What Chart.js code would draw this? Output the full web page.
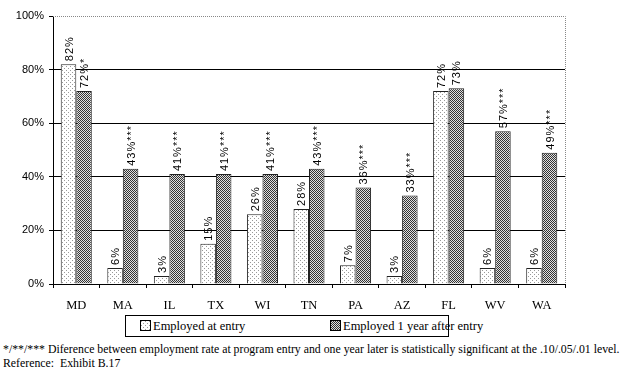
<!DOCTYPE html>
<html>
<head>
<meta charset="utf-8">
<script src="https://cdn.jsdelivr.net/npm/chart.js@4/dist/chart.umd.min.js"></script>
<style>
  body { margin: 0; background: #fff; width: 627px; height: 369px; position: relative; overflow: hidden; }
  #chart { position: absolute; left: 0; top: 0; }
  #legend {
    position: absolute; left: 125px; top: 315px; width: 322px; height: 20px;
    border: 1px solid #000; font-family: "Liberation Serif", serif; font-size: 12.5px;
    line-height: 20px; white-space: nowrap;
  }
  #legend span.item { position: absolute; top: 0; }
  #legend canvas { vertical-align: -1px; margin-right: 2px; border: 1px solid #000; box-sizing: border-box; }
  #notes {
    position: absolute; left: 3px; top: 342px; font-family: "Liberation Serif", serif;
    font-size: 11.8px; line-height: 14px; white-space: nowrap;
  }
</style>
</head>
<body>
<canvas id="chart" width="627" height="315"></canvas>
<div id="legend"></div>
<div id="notes">
  <div>*/**/*** Diference between employment rate at program entry and one year later is statistically significant at the .10/.05/.01 level.</div>
  <div>Reference:&nbsp; Exhibit B.17</div>
</div>
<script>
const states = ['MD', 'MA', 'IL', 'TX', 'WI', 'TN', 'PA', 'AZ', 'FL', 'WV', 'WA'];
const atEntry = [82, 6, 3, 15, 26, 28, 7, 3, 72, 6, 6];
const afterYear = [72, 43, 41, 41, 41, 43, 36, 33, 73, 57, 49];
const entryLabels = ['82%', '6%', '3%', '15%', '26%', '28%', '7%', '3%', '72%', '6%', '6%'];
const yearLabels = ['72%*', '43%***', '41%***', '41%***', '41%***', '43%***', '36%***', '33%***', '73%', '57%***', '49%***'];
const seriesNames = ['Employed at entry', 'Employed 1 year after entry'];
const yTicks = [0, 20, 40, 60, 80, 100];

// small fill patterns like the old office chart
function dotPattern() {
  const c = document.createElement('canvas');
  c.width = 4; c.height = 4;
  const g = c.getContext('2d');
  g.fillStyle = '#fff'; g.fillRect(0, 0, 4, 4);
  g.fillStyle = '#999';
  g.fillRect(0, 0, 1, 1);
  g.fillRect(2, 2, 1, 1);
  return c;
}
function checkPattern() {
  const c = document.createElement('canvas');
  c.width = 2; c.height = 2;
  const g = c.getContext('2d');
  g.fillStyle = '#e0e0e0'; g.fillRect(0, 0, 2, 2);
  g.fillStyle = '#333';
  g.fillRect(0, 0, 1, 1);
  g.fillRect(1, 1, 1, 1);
  return c;
}

const ctx = document.getElementById('chart').getContext('2d');
const dots = ctx.createPattern(dotPattern(), 'repeat');
const checks = ctx.createPattern(checkPattern(), 'repeat');

// rotated value labels above the bars
const barLabels = {
  id: 'barLabels',
  afterDatasetsDraw(chart) {
    const c = chart.ctx;
    const texts = [entryLabels, yearLabels];
    c.save();
    c.font = '11px "Liberation Sans", Arial, sans-serif';
    c.fillStyle = '#000';
    c.letterSpacing = '1px';
    chart.data.datasets.forEach((ds, di) => {
      chart.getDatasetMeta(di).data.forEach((bar, i) => {
        c.save();
        c.translate(bar.x + 1, bar.y - 3);
        c.rotate(-Math.PI / 2);
        c.textAlign = 'left';
        c.textBaseline = 'middle';
        c.fillText(texts[di][i], 0, 0);
        c.restore();
      });
    });
    c.restore();
  }
};

// dotted gray frame on top and right of the plot area
const frame = {
  id: 'frame',
  beforeDatasetsDraw(chart) {
    const a = chart.chartArea;
    const c = chart.ctx;
    c.save();
    c.strokeStyle = '#888';
    c.lineWidth = 1;
    c.setLineDash([1, 1]);
    c.beginPath();
    c.moveTo(a.left, Math.round(a.top) + 0.5);
    c.lineTo(Math.round(a.right) + 0.5, Math.round(a.top) + 0.5);
    c.lineTo(Math.round(a.right) + 0.5, a.bottom);
    c.stroke();
    c.restore();
  }
};

new Chart(ctx, {
  type: 'bar',
  data: {
    labels: states,
    datasets: [
      {
        label: seriesNames[0],
        data: atEntry,
        backgroundColor: dots,
        borderColor: '#222',
        borderWidth: 1,
        categoryPercentage: 0.667,
        barPercentage: 1.0
      },
      {
        label: seriesNames[1],
        data: afterYear,
        backgroundColor: checks,
        borderColor: '#222',
        borderWidth: 1,
        categoryPercentage: 0.667,
        barPercentage: 1.0
      }
    ]
  },
  options: {
    responsive: false,
    animation: false,
    layout: { padding: { top: 16, right: 62, left: 0, bottom: 0 } },
    plugins: {
      legend: { display: false },
      tooltip: { enabled: false }
    },
    scales: {
      x: {
        grid: {
          offset: true,
          drawOnChartArea: false,
          drawTicks: true,
          tickLength: 4,
          color: '#000'
        },
        border: { color: '#000', width: 1 },
        ticks: {
          color: '#000',
          padding: 10,
          font: { family: '"Liberation Serif", serif', size: 12.5 }
        },
        afterFit(scale) { scale.height = 31; }
      },
      y: {
        min: 0,
        max: 100,
        afterBuildTicks(scale) { scale.ticks = yTicks.map(v => ({ value: v })); },
        grid: {
          color: c => (c.tick && c.tick.value === 100 ? 'rgba(0,0,0,0)' : '#000'),
          tickColor: '#000',
          tickLength: 4,
          lineWidth: 1
        },
        border: { color: '#000', width: 1 },
        ticks: {
          color: '#000',
          padding: 5,
          font: { family: '"Liberation Sans", Arial, sans-serif', size: 11 },
          callback: v => v + '%'
        },
        afterFit(scale) { scale.width = 53; }
      }
    }
  },
  plugins: [frame, barLabels]
});

// legend box
const legend = document.getElementById('legend');
const fills = [dotPattern, checkPattern];
const lefts = [14, 204];
seriesNames.forEach((name, i) => {
  const item = document.createElement('span');
  item.className = 'item';
  item.style.left = lefts[i] + 'px';
  const sw = document.createElement('canvas');
  sw.width = 9; sw.height = 9;
  const g = sw.getContext('2d');
  g.fillStyle = g.createPattern(fills[i](), 'repeat');
  g.fillRect(0, 0, 9, 9);
  item.appendChild(sw);
  item.appendChild(document.createTextNode(name));
  legend.appendChild(item);
});
</script>
</body>
</html>
